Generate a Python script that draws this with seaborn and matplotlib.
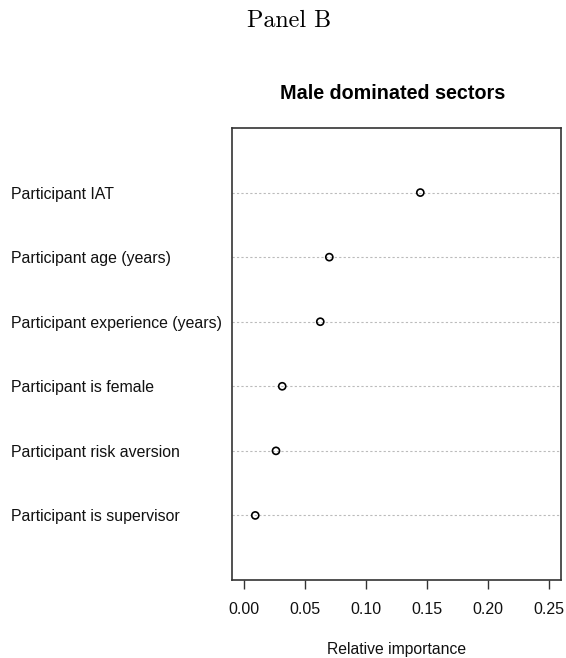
import matplotlib
matplotlib.use("Agg")
import matplotlib.pyplot as plt
import seaborn as sns
import pandas as pd
import numpy as np

labels = ["Participant IAT", "Participant age (years)", "Participant experience (years)",
          "Participant is female", "Participant risk aversion", "Participant is supervisor"]
importance = [0.1443, 0.0697, 0.0623, 0.0311, 0.0260, 0.0090]
xticks = [0.00, 0.05, 0.10, 0.15, 0.20, 0.25]
xtick_labels = ["0.00", "0.05", "0.10", "0.15", "0.20", "0.25"]

sns.set_theme(style="white")
plt.rcParams['font.family'] = ['Liberation Sans', 'DejaVu Sans']

n = len(labels)
df = pd.DataFrame({"label": labels, "importance": importance,
                   "pos": [n - i for i in range(n)]})

fig = plt.figure(figsize=(5.66, 6.58), dpi=100)
ax = fig.add_axes([231.7/566, 1 - 580/658, (561 - 231.7)/566, (580 - 128)/658])

sns.scatterplot(data=df, x="importance", y="pos", ax=ax, marker="o", s=26,
                facecolor="none", edgecolor="black", linewidth=1.2, zorder=3)

ax.set_xlim(-0.0103, 0.2596)
ax.set_ylim(0, n + 1)
ax.set_yticks(df["pos"])
ax.set_yticklabels(df["label"], fontsize=11.4, color="#111111")
for t in ax.get_yticklabels():
    t.set_horizontalalignment("left")
ax.tick_params(axis="y", length=0, pad=(231.7 - 11) * 72 / 100)
ax.set_xticks(xticks)
ax.set_xticklabels(xtick_labels, fontsize=11.5, color="#111111")
ax.tick_params(axis="x", length=6.5, width=1.0, color="#333333", pad=9, bottom=True)
ax.yaxis.grid(True, linestyle=(0, (2, 2)), color="#BBBBBB", linewidth=0.8)
ax.xaxis.grid(False)
for s in ax.spines.values():
    s.set_visible(True)
    s.set_color("#333333")
    s.set_linewidth(1.2)
ax.set_xlabel("Relative importance", fontsize=11.3, color="#111111", labelpad=18)
ax.set_ylabel("")
ax.set_title("Male dominated sectors", fontsize=14.2, fontweight="bold", pad=21,
             color="black", x=0.489)

fig.text(289/566, 1 - 21/658, "Panel B", ha="center", va="center",
         fontsize=17.3, color="black", family=["cmr10", "DejaVu Serif"])

fig.savefig("out.png", dpi=100, facecolor="white")
